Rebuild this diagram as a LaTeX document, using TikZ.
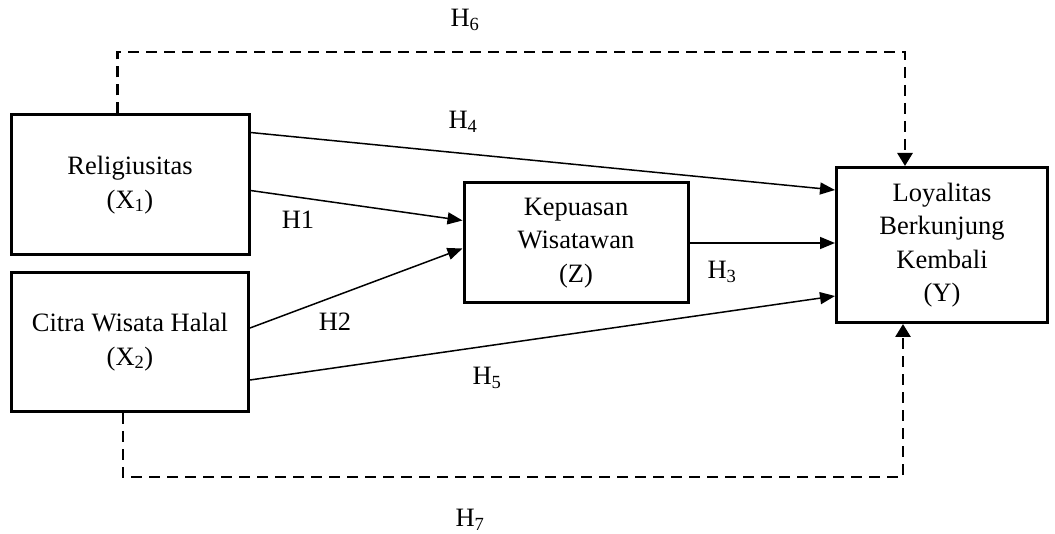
\documentclass[tikz,border=0pt]{standalone}
\usepackage{fontspec}
\setmainfont{Liberation Serif}
\usetikzlibrary{arrows.meta}
\begin{document}
\begin{tikzpicture}[x=1pt,y=-1pt,
  every node/.style={font=\fontsize{26.5}{33.5}\selectfont},
  varbox/.style={draw, line width=3pt, align=center, inner sep=0pt},
  path/.style={line width=1.5pt, -{Triangle[length=15pt,width=12pt]}},
  mediated/.style={line width=2.8pt, dash pattern=on 11pt off 7pt,
    -{Triangle[length=13pt,width=15pt]}},
  hlabel/.style={inner sep=0pt}]
\useasboundingbox (0,0) rectangle (1055,534);

% latent variables
\node[varbox, minimum width=238pt, minimum height=140pt] (x1) at (130,185)
  {Religiusitas\\(X\textsubscript{1})};
\node[varbox, minimum width=237pt, minimum height=139pt] (x2) at (130,342)
  {Citra Wisata Halal\\(X\textsubscript{2})};
\node[varbox, minimum width=224pt, minimum height=120pt] (z) at (576,243)
  {Kepuasan\\Wisatawan\\(Z)};
\node[varbox, minimum width=211pt, minimum height=155pt] (y) at (942,245)
  {Loyalitas\\Berkunjung\\Kembali\\(Y)};

% direct paths
\draw[path] ([yshift=-19pt]x1.north east) -- ([yshift=-24pt]y.north west);
\draw[path] ([yshift=-77pt]x1.north east) -- ([yshift=-39pt]z.north west);
\draw[path] ([yshift=-57pt]x2.north east) -- ([yshift=-67pt]z.north west);
\draw[path] (z.east) -- (z.east -| y.west);
\draw[path] ([yshift=-109pt]x2.north east) -- ([yshift=-130pt]y.north west);

% mediated paths
\coordinate (t1) at ([xshift=108pt]x1.north west);
\coordinate (t2) at ([xshift=70pt]y.north west);
\draw[mediated] (t1) -- (t1 |- 0,52) -- (t2 |- 0,52) -- (t2);
\coordinate (b1) at ([xshift=113pt]x2.south west);
\coordinate (b2) at ([xshift=68pt]y.south west);
\draw[mediated] (b1) -- (b1 |- 0,477) -- (b2 |- 0,477) -- (b2);

% hypothesis labels
\node[hlabel] (h6) at (465,20) {H\textsubscript{6}};
\node[hlabel] (h4) at (463,122) {H\textsubscript{4}};
\node[hlabel] (h1) at (298,220) {H1};
\node[hlabel] (h2) at (335,322) {H2};
\node[hlabel] (h3) at (722,272) {H\textsubscript{3}};
\node[hlabel] (h5) at (487,378) {H\textsubscript{5}};
\node[hlabel] (h7) at (470,520) {H\textsubscript{7}};
\end{tikzpicture}
\end{document}
